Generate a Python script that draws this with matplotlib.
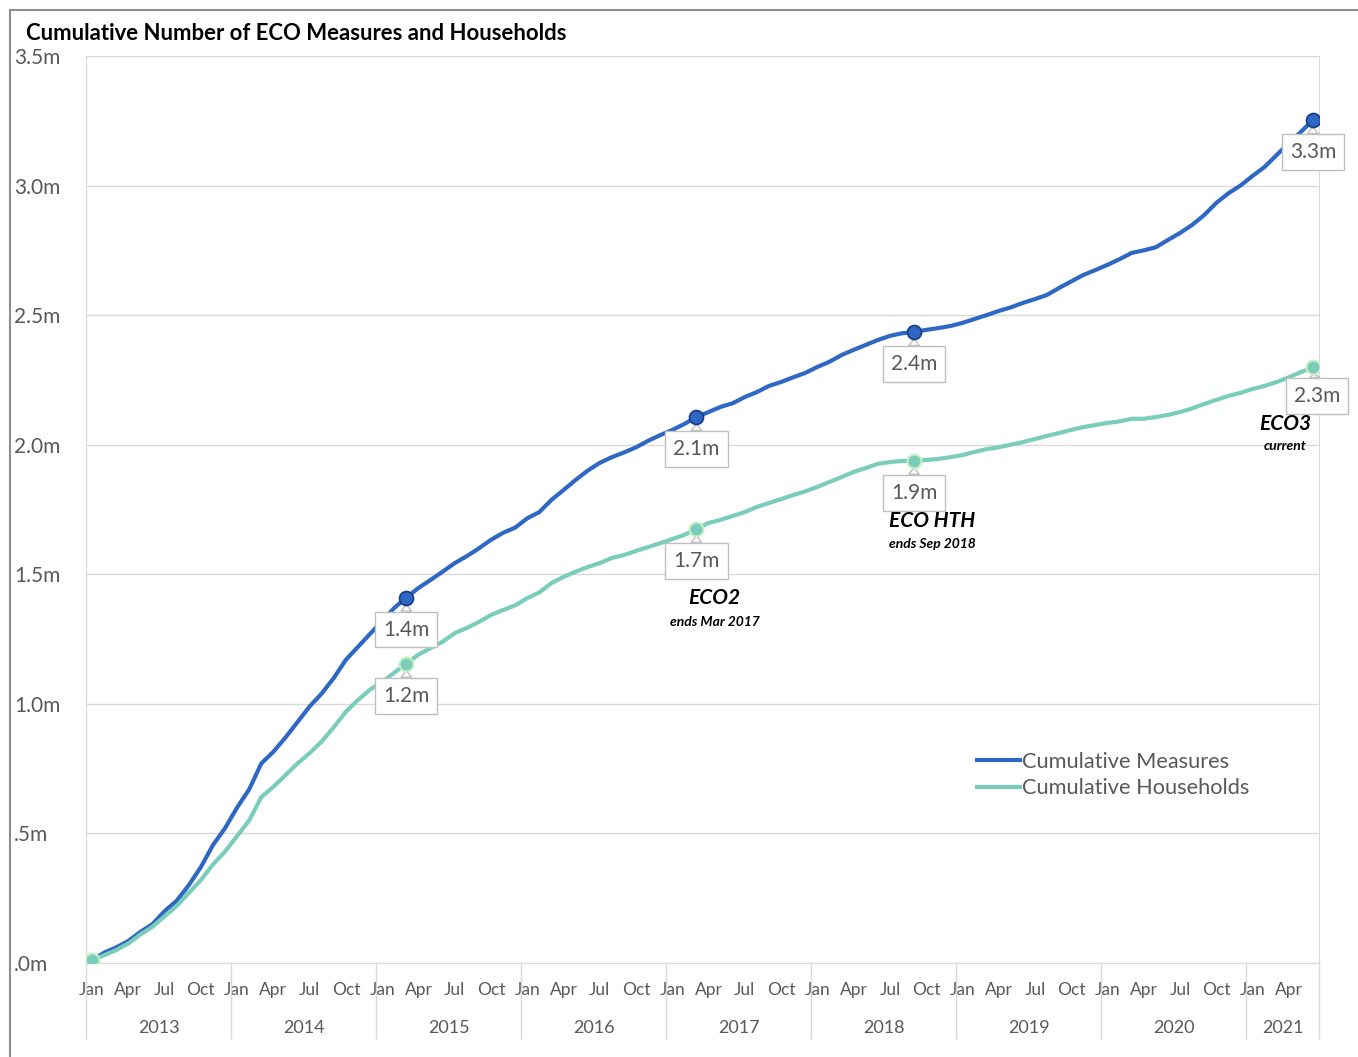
import matplotlib.pyplot as plt
import matplotlib.transforms as transforms
import numpy as np

# months run Jan 2013 .. Jun 2021, one value per month
years = [2013, 2014, 2015, 2016, 2017, 2018, 2019, 2020, 2021]
month_names = ['Jan', 'Apr', 'Jul', 'Oct']

measures = [
    0.01, 0.04, 0.06, 0.085, 0.12, 0.15, 0.20, 0.24, 0.30, 0.37, 0.455, 0.52,
    0.60, 0.67, 0.77, 0.815, 0.87, 0.93, 0.99, 1.04, 1.10, 1.17, 1.22, 1.27,
    1.32, 1.37, 1.41, 1.447, 1.478, 1.51, 1.543, 1.57, 1.60, 1.633, 1.66, 1.68,
    1.716, 1.74, 1.787, 1.825, 1.864, 1.90, 1.93, 1.952, 1.97, 1.99, 2.015, 2.037,
    2.057, 2.08, 2.107, 2.126, 2.146, 2.16, 2.184, 2.203, 2.227, 2.242, 2.26, 2.277,
    2.30, 2.32, 2.346, 2.366, 2.385, 2.404, 2.42, 2.43, 2.435, 2.443, 2.45, 2.458,
    2.47, 2.485, 2.50, 2.516, 2.53, 2.547, 2.562, 2.578, 2.605, 2.63, 2.655, 2.674,
    2.694, 2.716, 2.74, 2.75, 2.762, 2.79, 2.817, 2.848, 2.886, 2.933, 2.97, 3.00,
    3.037, 3.072, 3.118, 3.164, 3.207, 3.253,
]
households = [
    0.01, 0.03, 0.05, 0.075, 0.11, 0.14, 0.18, 0.22, 0.27, 0.32, 0.38, 0.43,
    0.49, 0.55, 0.64, 0.68, 0.725, 0.77, 0.81, 0.855, 0.91, 0.97, 1.015, 1.055,
    1.085, 1.12, 1.155, 1.19, 1.215, 1.24, 1.273, 1.293, 1.316, 1.343, 1.362, 1.38,
    1.408, 1.43, 1.466, 1.49, 1.51, 1.528, 1.543, 1.563, 1.574, 1.59, 1.605, 1.62,
    1.636, 1.652, 1.675, 1.698, 1.71, 1.725, 1.74, 1.76, 1.775, 1.79, 1.806, 1.82,
    1.837, 1.856, 1.875, 1.895, 1.91, 1.926, 1.933, 1.937, 1.938, 1.941, 1.945, 1.952,
    1.96, 1.972, 1.983, 1.99, 2.0, 2.01, 2.022, 2.034, 2.045, 2.057, 2.068, 2.076,
    2.084, 2.09, 2.10, 2.10, 2.107, 2.115, 2.126, 2.14, 2.157, 2.173, 2.188, 2.20,
    2.215, 2.227, 2.242, 2.26, 2.28, 2.30,
]

label_idx = [26, 50, 68, 101]
scheme_idx = [50, 68, 101]
schemes = ['ECO2', 'ECO HTH', 'ECO3']
scheme_notes = ['ends Mar 2017', 'ends Sep 2018', 'current']

blue = '#2e68c4'
green = '#7acdba'
grey_txt = '#595959'
grid_c = '#d9d9d9'

plt.rcParams['font.family'] = ['Lato', 'DejaVu Sans']

W, H = 1358, 1057
fig = plt.figure(figsize=(W / 100, H / 100), dpi=100)
ax = fig.add_axes([86 / W, 1 - 963 / H, (1319 - 86) / W, (963 - 56) / H])

m = np.array(measures)
h = np.array(households)
x = np.arange(len(m))

ax.plot(x, m, color=blue, lw=3, label='Cumulative Measures', zorder=3)
ax.plot(x, h, color=green, lw=3, label='Cumulative Households', zorder=3)
ax.plot(x[label_idx], m[label_idx], 'o', ms=10, mfc=blue, mec='#1d3f86', mew=1.3, zorder=5)
hi = [0] + label_idx
ax.plot(x[hi], h[hi], 'o', ms=10, mfc=green, mec='#c8efc4', mew=1.5, zorder=5)

# callout labels
for series in (m, h):
    for i in label_idx:
        off = (3, -21) if (series is h and i == label_idx[-1]) else (0, -23)
        ax.annotate(f'{series[i]:.1f}m', xy=(i, series[i]), xytext=off,
                    textcoords='offset points', ha='center', va='center',
                    fontsize=15, color=grey_txt, zorder=4,
                    bbox=dict(boxstyle='square,pad=0.38', fc='white', ec='#bfbfbf', lw=1),
                    arrowprops=dict(arrowstyle='wedge,tail_width=0.5', fc='white',
                                    ec='#bfbfbf', lw=1, shrinkA=0, shrinkB=5))

# scheme notes under the households points
name_off = [(13, -50), (13, -43), (-20, -41)]
note_off = [(13, -67), (13, -60), (-20, -57)]
for k, i in enumerate(scheme_idx):
    ax.annotate(schemes[k], xy=(i, h[i]), xytext=name_off[k], textcoords='offset points',
                ha='center', va='center', fontsize=15, fontweight='bold', style='italic',
                zorder=6)
    ax.annotate(scheme_notes[k], xy=(i, h[i]), xytext=note_off[k], textcoords='offset points',
                ha='center', va='center', fontsize=10, fontweight='bold', style='italic')

# axes
ax.set_xlim(-0.5, len(m) - 0.5)
ax.set_ylim(0, 3.5)
yt = np.arange(0, 3.51, 0.5)
ax.set_yticks(yt)
ax.set_yticklabels([f'{v:.1f}m'.lstrip('0') for v in yt])
ax.tick_params(axis='y', length=0, pad=52, labelsize=15, labelcolor=grey_txt)
for lbl in ax.get_yticklabels():
    lbl.set_ha('left')

mt = np.arange(0, len(m), 3)
ax.set_xticks(mt)
ax.set_xticklabels([month_names[(k // 3) % 4] for k in mt])
ax.tick_params(axis='x', which='major', length=0, pad=14, labelsize=12.5, labelcolor=grey_txt)
bounds = [12 * k - 0.5 for k in range(len(years))] + [len(m) - 0.5]
ax.set_xticks(bounds, minor=True)
ax.tick_params(axis='x', which='minor', length=55, width=1, color=grid_c, labelbottom=False)

trans = transforms.blended_transform_factory(ax.transData, ax.transAxes)
for k, yr in enumerate(years):
    mid = (bounds[k] + bounds[k + 1]) / 2
    ax.text(mid, -65 / 907, str(yr), transform=trans, ha='center', va='center',
            fontsize=13, color=grey_txt)

ax.yaxis.grid(True, color=grid_c, lw=1)
ax.set_axisbelow(True)
for s in ax.spines.values():
    s.set_color(grid_c)

ax.legend(frameon=False, loc='center left', bbox_to_anchor=(977 / W, 1 - 775 / H),
          bbox_transform=fig.transFigure, fontsize=15.7, handlelength=1.95,
          handletextpad=0.1, borderpad=0, borderaxespad=0, labelspacing=0.3,
          labelcolor=grey_txt)

fig.text(26 / W, 1 - 34 / H, 'Cumulative Number of ECO Measures and Households',
         ha='left', va='center', fontsize=15.9, fontweight='bold', color='black')

# chart area border
fig.add_artist(plt.Line2D([10 / W, 10 / W], [0, 1 - 10 / H], transform=fig.transFigure,
                          color='#8c8c8c', lw=1.5))
fig.add_artist(plt.Line2D([10 / W, 1], [1 - 10 / H, 1 - 10 / H], transform=fig.transFigure,
                          color='#8c8c8c', lw=1.5))

fig.savefig('out.png', dpi=100)
